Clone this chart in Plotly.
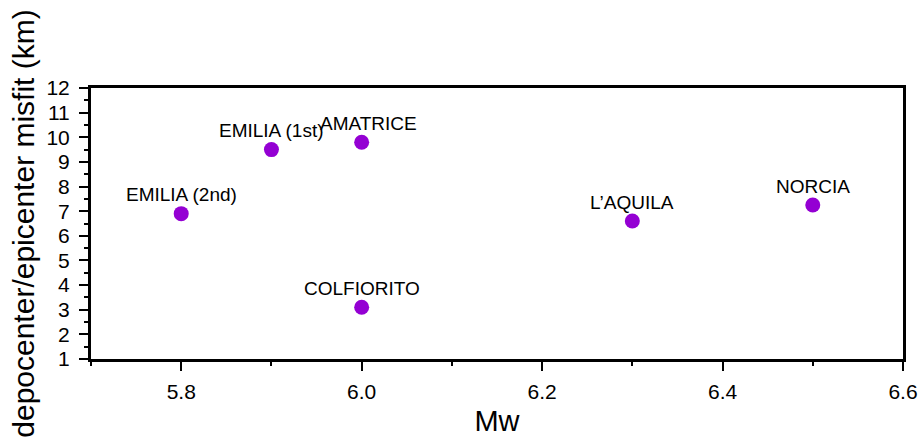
import plotly.graph_objects as go

events = ["EMILIA (2nd)", "EMILIA (1st)", "AMATRICE", "COLFIORITO", "L\u2019AQUILA", "NORCIA"]
mw = [5.8, 5.9, 6.0, 6.0, 6.3, 6.5]
misfit_km = [6.9, 9.5, 9.8, 3.1, 6.6, 7.25]

FONT = "Liberation Sans, Arial, Helvetica, sans-serif"
label_xshift = {"AMATRICE": 7}

fig = go.Figure()
fig.add_trace(go.Scatter(
    x=mw, y=misfit_km, mode="markers",
    marker=dict(size=15, color="#9400D3", line=dict(width=0)),
    hoverinfo="text", text=events, showlegend=False,
))

for name, xv, yv in zip(events, mw, misfit_km):
    fig.add_annotation(
        x=xv, y=yv, text=name, showarrow=False,
        yshift=19, xshift=label_xshift.get(name, 0),
        font=dict(family=FONT, size=19, color="black"),
    )

fig.update_layout(
    width=921, height=437,
    margin=dict(l=91, r=18, t=88, b=78),
    paper_bgcolor="white", plot_bgcolor="white",
    font=dict(family=FONT, color="black"),
    xaxis=dict(
        range=[5.7, 6.6], tick0=5.8, dtick=0.2, tickformat=".1f",
        ticks="outside", ticklen=9, tickwidth=1.5, tickcolor="black",
        minor=dict(dtick=0.1, tick0=5.7, ticks="outside", ticklen=4, tickwidth=1.5, tickcolor="black"),
        showline=True, linewidth=3, linecolor="black", mirror=True,
        showgrid=False, zeroline=False,
        tickfont=dict(size=21, family=FONT), ticklabelstandoff=3,
        title=dict(text="Mw", font=dict(size=29, family=FONT), standoff=11),
        automargin=False,
    ),
    yaxis=dict(
        range=[1, 12], tick0=1, dtick=1,
        ticks="outside", ticklen=9, tickwidth=1.5, tickcolor="black",
        minor=dict(dtick=0.5, tick0=1, ticks="outside", ticklen=4, tickwidth=1.5, tickcolor="black"),
        showline=True, linewidth=3, linecolor="black", mirror=True,
        showgrid=False, zeroline=False,
        tickfont=dict(size=21, family=FONT), ticklabelstandoff=5,
        title=dict(text="depocenter/epicenter misfit (km)", font=dict(size=30, family=FONT), standoff=3),
        automargin=False,
    ),
)

fig.write_html("out.html")
